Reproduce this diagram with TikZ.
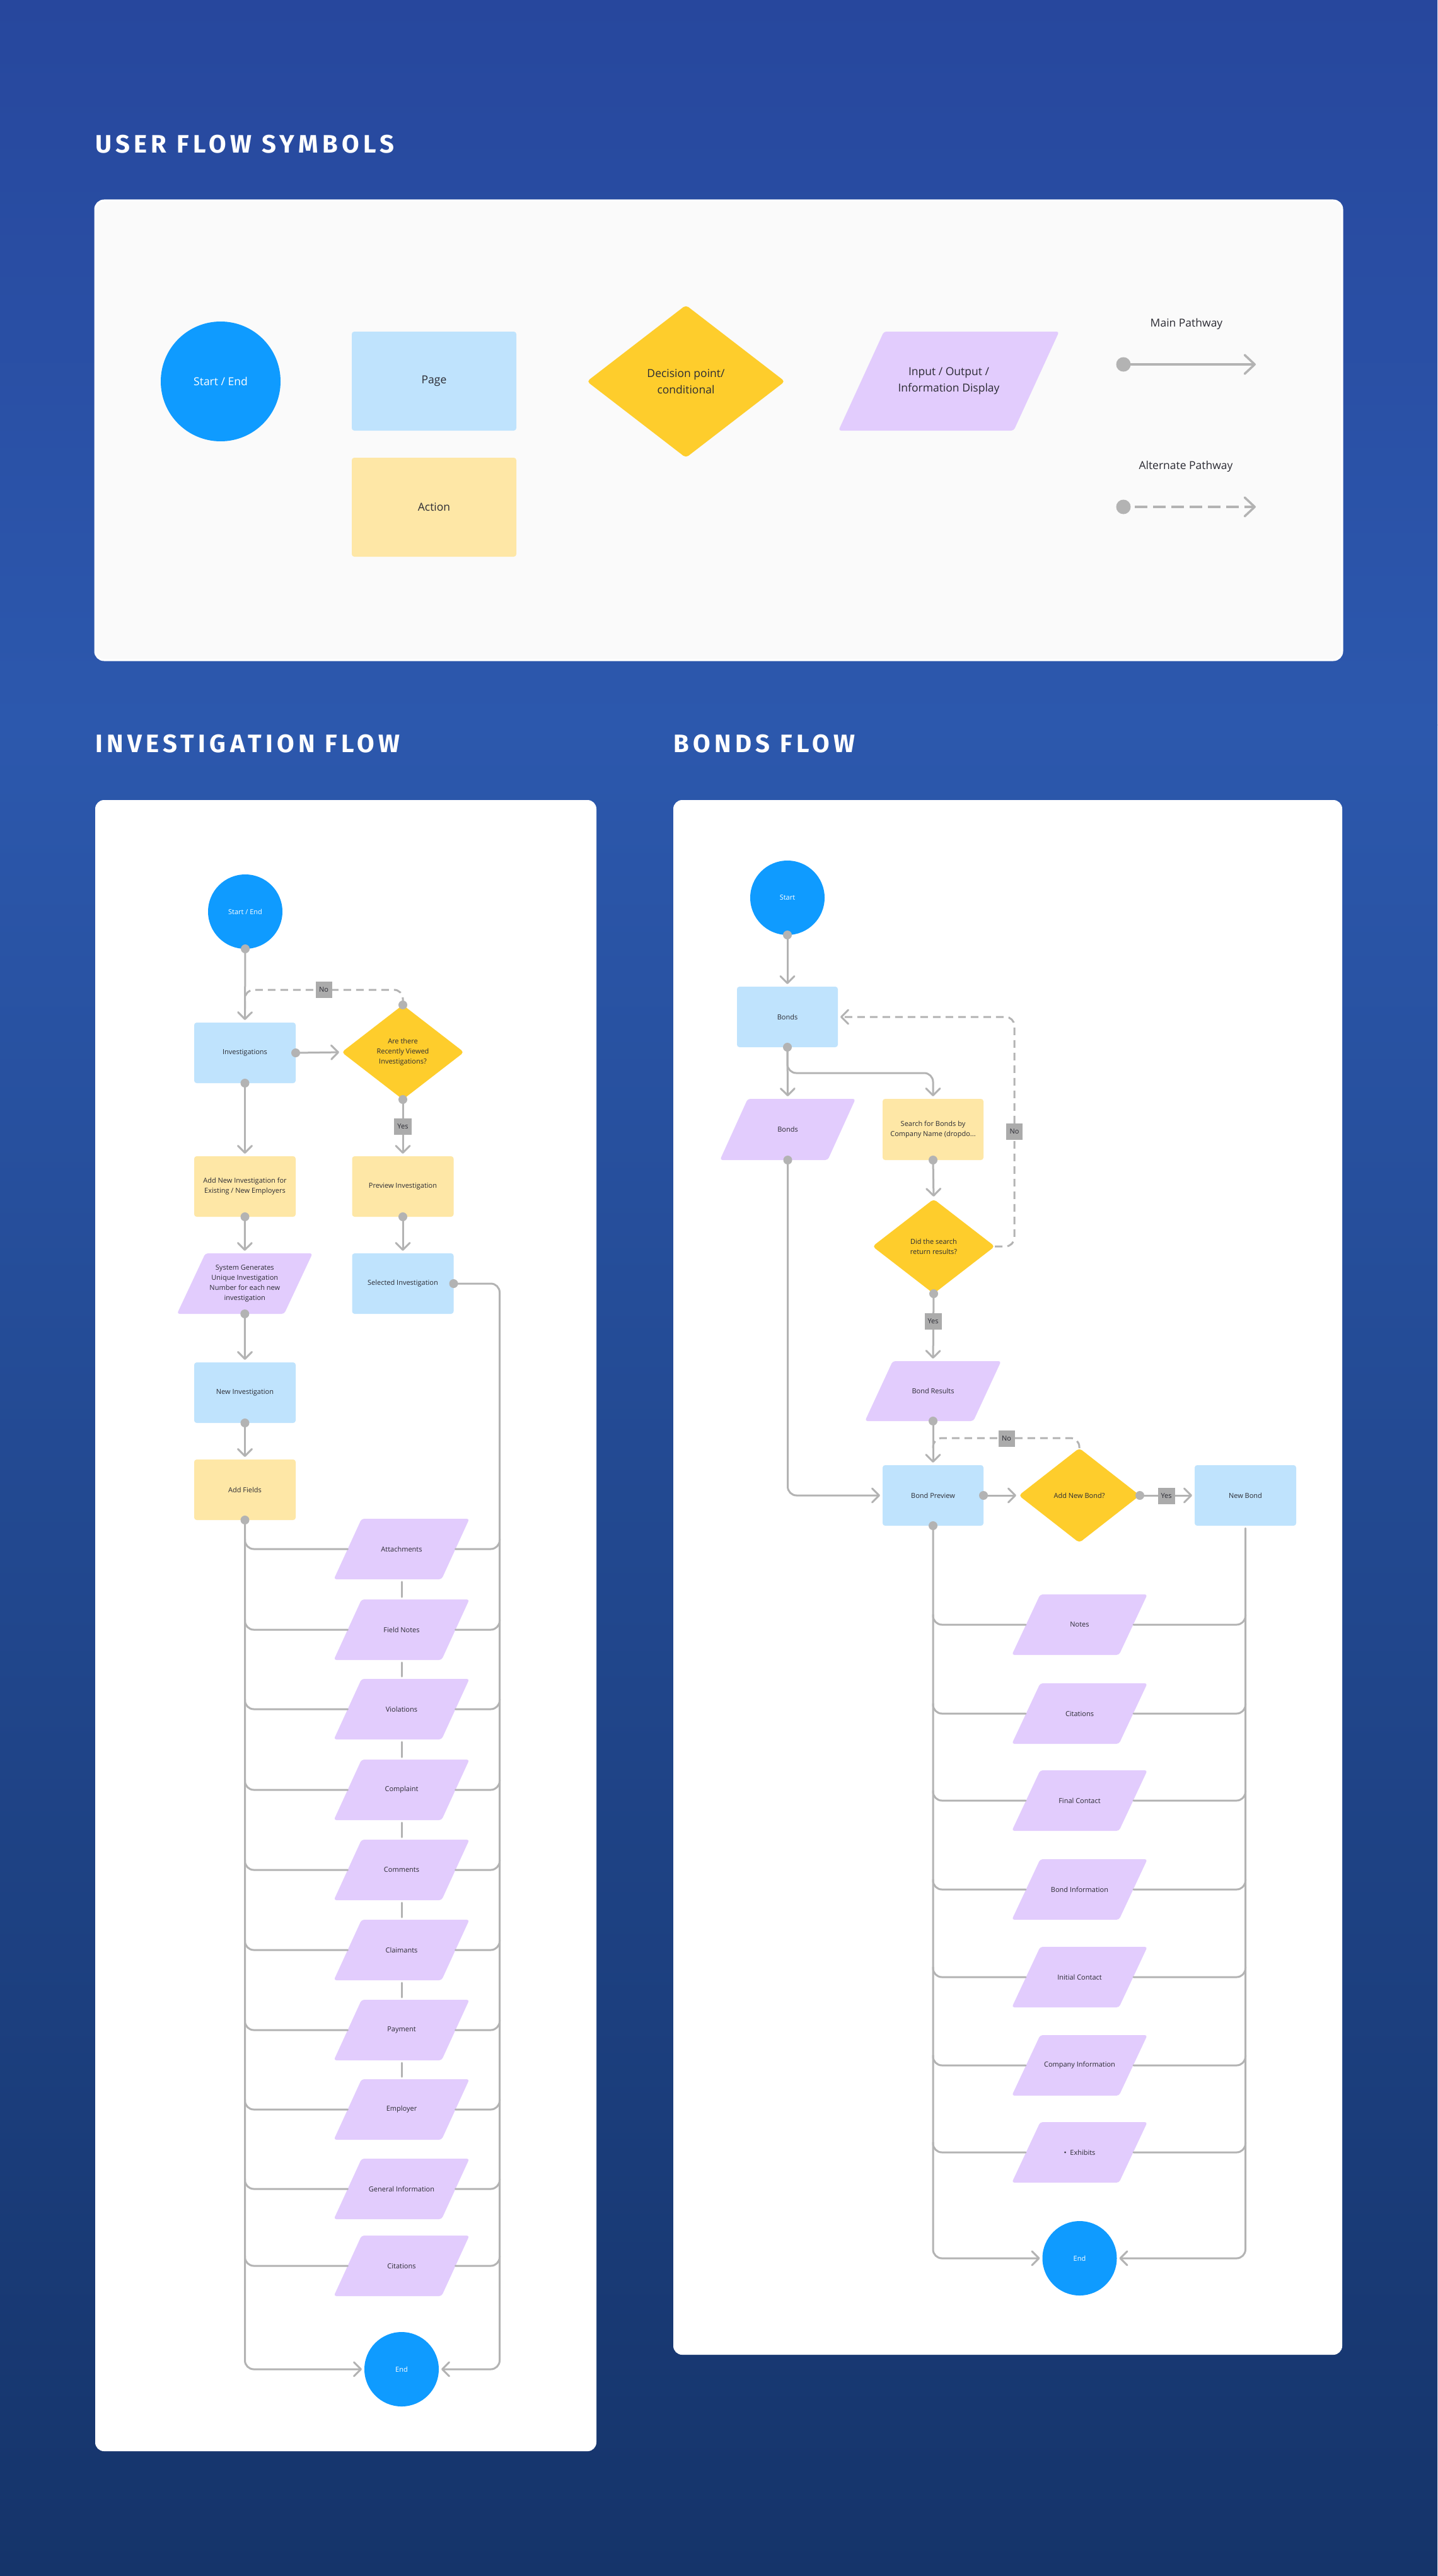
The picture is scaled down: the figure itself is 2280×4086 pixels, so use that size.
\documentclass[tikz,border=0pt]{standalone}
\usepackage{fontspec}
\setmainfont{Open Sans}
\newfontfamily\titlefont[LetterSpace=16]{Fira Sans}
\usetikzlibrary{shapes.geometric,arrows.meta,calc}
\pgfdeclarelayer{bg}
\pgfdeclarelayer{shp}
\pgfsetlayers{bg,shp,main}
\definecolor{termc}{HTML}{0F9BFF}
\definecolor{pagec}{HTML}{BFE3FD}
\definecolor{actc}{HTML}{FEE7A6}
\definecolor{decc}{HTML}{FECD2C}
\definecolor{ioc}{HTML}{E2CCFD}
\definecolor{linec}{HTML}{B3B3B3}
\definecolor{labc}{HTML}{ABABAB}
\definecolor{txt}{HTML}{2B2B33}
\definecolor{bgtop}{HTML}{27479D}
\definecolor{bgmid}{HTML}{2C58AD}
\definecolor{bgbot}{HTML}{15346A}
\definecolor{panelc}{HTML}{FAFAFA}
\newcommand\fsmall{\fontsize{11}{16}\selectfont}
\newcommand\fbig{\fontsize{17.5}{25.5}\selectfont}
\newcommand\ftitle{\titlefont\bfseries\fontsize{40}{48}\selectfont}
\newcommand\ionode[7][]{%
  \node[iobox,minimum width=#4pt,minimum height=#5pt,#1] (#2) at (#3) {#7};
  \begin{pgfonlayer}{shp}
    \fill[ioc,rounded corners=4pt] ([xshift=#6pt]#2.north west) -- (#2.north east)
      -- ([xshift=-#6pt]#2.south east) -- (#2.south west) -- cycle;
  \end{pgfonlayer}}
\newcommand\dotat[1]{\fill[linec] (#1) circle (7pt);}
\tikzset{
  base/.style={inner sep=0pt, outer sep=0pt, align=center, text=txt, font=\fsmall},
  pagebox/.style={base, rectangle, rounded corners=4pt, fill=pagec, minimum width=161pt, minimum height=96pt},
  actbox/.style={pagebox, fill=actc},
  decbox/.style={base, diamond, fill=decc, rounded corners=5pt, minimum width=194pt, minimum height=150pt},
  termbox/.style={base, circle, fill=termc, text=white, minimum size=118pt},
  iobox/.style={base, rectangle},
  labbox/.style={base, fill=labc, inner xsep=5pt, minimum height=26pt, minimum width=26pt},
  titlenode/.style={inner sep=0pt, outer sep=0pt, anchor=west, text=white, font=\ftitle},
  conn/.style={draw=linec, line width=3pt, line cap=round, line join=round, rounded corners=14pt},
  arr/.style={conn, ->, shorten >=4pt},
  dconn/.style={conn, line cap=butt, dash pattern=on 12pt off 8pt},
  symconn/.style={draw=linec, line width=3.5pt, line cap=round, line join=round, -{Straight Barb[length=16pt,width=30pt,round]}},
}
\begin{document}
\begin{tikzpicture}[x=1pt,y=-1pt,>={Straight Barb[length=11pt,width=22pt,round]}]
\useasboundingbox (0,0) rectangle (2280,4086);
\begin{pgfonlayer}{bg}
  \shade[top color=bgtop, bottom color=bgmid] (0,0) rectangle (2280,1150);
  \shade[top color=bgmid, bottom color=bgbot] (0,1149) rectangle (2280,4086);
  \filldraw[fill=panelc, draw=white, line width=3pt, rounded corners=14pt] (151,318) rectangle (2129,1047);
  \fill[white, rounded corners=14pt] (151,1269) rectangle (946,3888);
  \fill[white, rounded corners=14pt] (1068,1269) rectangle (2129,3735);
\end{pgfonlayer}

% titles
\node[titlenode] (t1) at (151,229) {USER FLOW SYMBOLS};
\node[titlenode] (t2) at (151,1180) {INVESTIGATION FLOW};
\node[titlenode] (t3) at (1068,1180) {BONDS FLOW};

% ---------- symbols ----------
\node[termbox, minimum size=190pt, font=\fbig] (symstart) at (350,605) {Start / End};
\node[pagebox, minimum width=261pt, minimum height=157pt, font=\fbig] (sympage) at (688.5,604.5) {Page};
\node[actbox, minimum width=261pt, minimum height=157pt, font=\fbig] (symaction) at (688.5,804.5) {Action};
\node[decbox, minimum width=314pt, minimum height=242pt, font=\fbig] (symdec) at (1088,605) {Decision point/\\conditional};
\ionode[font=\fbig]{symio}{1505,604.5}{350}{157}{72}{Input / Output /\\Information Display}
\node[base, font=\fbig] (mainlbl) at (1882,514) {Main Pathway};
\node[base, font=\fbig] (altlbl) at (1881,740) {Alternate Pathway};
\coordinate (mainA) at (1782,578);
\coordinate (mainB) at (1992,578);
\coordinate (altA) at (1782,804);
\coordinate (altB) at (1992,804);
\draw[symconn] (mainA) -- (mainB);
\fill[linec] (mainA) circle (11.5pt);
\draw[symconn, line cap=butt, dash pattern=on 20pt off 9pt] ([xshift=18pt]altA) -- (altB);
\fill[linec] (altA) circle (11.5pt);

% ---------- investigation flow ----------
\node[termbox] (start1) at (389,1446) {Start / End};
\node[pagebox] (inv) at (388.5,1670) {Investigations};
\node[decbox] (q1) at (639,1669) {Are there\\Recently Viewed\\Investigations?};
\node[actbox] (addnew) at (388.5,1882) {Add New Investigation for\\Existing / New Employers};
\node[actbox] (preview) at (639,1882) {Preview Investigation};
\ionode{sysgen}{388.3,2036}{215}{96}{45}{System Generates\\Unique Investigation\\Number for each new\\investigation}
\node[pagebox] (selected) at (639,2036) {Selected Investigation};
\node[pagebox] (newinv) at (388.5,2209) {New Investigation};
\node[actbox] (addfields) at (388.5,2363) {Add Fields};
\foreach \i/\yy/\t in {1/2457/Attachments, 2/2585/Field Notes, 3/2711/Violations,
  4/2839/Complaint, 5/2966/Comments, 6/3093/Claimants, 7/3220/Payment,
  8/3346/Employer, 9/3472/General Information, 10/3594/Citations}{
  \ionode{f\i}{637,\yy}{215}{96}{44}{\t}
}
\node[termbox] (end1) at (637,3758) {End};

\coordinate (lrail) at (addfields.south);
\coordinate (rrail) at ($(selected.east)+(73,0)$);

\draw[arr] (start1.south) -- (inv.north);
\draw[dconn] (q1.north) -- ++(0,-24) -| ([yshift=22pt]inv.north);
\draw[arr] (inv.east) -- (q1.west);
\draw[arr] (q1.south) -- (preview.north);
\draw[arr] (inv.south) -- (addnew.north);
\draw[arr] (addnew.south) -- (sysgen.north);
\draw[arr] (preview.south) -- (selected.north);
\draw[arr] (sysgen.south) -- (newinv.north);
\draw[arr] (newinv.south) -- (addfields.north);
\draw[arr] (addfields.south) |- (end1.west);
\draw[arr] (selected.east) -- (rrail) |- (end1.east);
\foreach \i in {1,...,10}{
  \draw[conn] (lrail |- f\i.west) ++(0,-16) |- ([xshift=22pt]f\i.west);
  \draw[conn] ([xshift=-22pt]f\i.east) -| ($(rrail |- f\i.east)+(0,-16)$);
}
\foreach \i/\j in {1/2,2/3,3/4,4/5,5/6,6/7,7/8}{
  \draw[conn] ([yshift=-4pt]f\i.south) -- ([yshift=4pt]f\j.north);
}
\node[labbox] (noA) at (513.5,1570) {No};
\node[labbox] (yesA) at (639,1786.5) {Yes};
\dotat{start1.south}
\dotat{q1.north}
\dotat{inv.east}
\dotat{inv.south}
\dotat{q1.south}
\dotat{addnew.south}
\dotat{preview.south}
\dotat{sysgen.south}
\dotat{selected.east}
\dotat{newinv.south}
\dotat{addfields.south}

% ---------- bonds flow ----------
\node[termbox] (start2) at (1249,1424) {Start};
\node[pagebox, minimum width=160pt] (bonds) at (1249,1613) {Bonds};
\ionode{bondsio}{1249.5,1791.5}{215}{97}{44}{Bonds}
\node[actbox, minimum width=160pt, minimum height=97pt] (search) at (1480,1791.5) {Search for Bonds by\\Company Name (dropdo...};
\node[decbox] (q2) at (1481,1977) {Did the search\\return results?};
\ionode{results}{1480,2206.5}{216}{95}{44}{Bond Results}
\node[pagebox, minimum width=160pt] (preview2) at (1480,2372) {Bond Preview};
\node[decbox, minimum width=192pt] (q3) at (1712,2372) {Add New Bond?};
\node[pagebox] (newbond) at (1975.5,2372) {New Bond};
\foreach \i/\yy/\t in {1/2577/Notes, 2/2718/Citations, 3/2856/Final Contact,
  4/2997/Bond Information, 5/3136/Initial Contact, 6/3276/Company Information,
  7/3414/{\textbullet\ \ Exhibits}}{
  \ionode{b\i}{1712.5,\yy}{215}{96}{45}{\t}
}
\node[termbox] (end2) at (1712.5,3582) {End};

\coordinate (lrail2) at (preview2.south);
\coordinate (rrail2) at (newbond.south);

\draw[arr] (start2.south) -- (bonds.north);
\draw[arr] (bonds.south) -- (bondsio.north);
\draw[arr] (bonds.south) -- ++(0,41) -| (search.north);
\draw[arr] (bondsio.south) |- (preview2.west);
\draw[arr] (search.south) -- (q2.north);
\draw[dconn, ->, shorten >=4pt] (q2.east) -- ++(31,0) |- (bonds.east);
\draw[arr] (q2.south) -- (results.north);
\draw[arr] (results.south) -- (preview2.north);
\draw[dconn] (q3.north) -- ++(0,-16) -| ([yshift=19pt]preview2.north);
\draw[arr] (preview2.east) -- (q3.west);
\draw[arr] (q3.east) -- (newbond.west);
\draw[arr] (preview2.south) |- (end2.west);
\draw[arr] ([yshift=-4pt]newbond.south) |- (end2.east);
\foreach \i in {1,...,7}{
  \draw[conn] (lrail2 |- b\i.west) ++(0,-16) |- ([xshift=22pt]b\i.west);
  \draw[conn] ([xshift=-22pt]b\i.east) -| ($(rrail2 |- b\i.east)+(0,-16)$);
}
\node[labbox] (noB) at (1609,1795) {No};
\node[labbox] (yesB) at (1480,2096) {Yes};
\node[labbox] (noC) at (1596.5,2281.5) {No};
\node[labbox] (yesC) at (1850,2372.5) {Yes};
\dotat{start2.south}
\dotat{bonds.south}
\dotat{bondsio.south}
\dotat{search.south}
\dotat{q2.south}
\dotat{results.south}
\dotat{preview2.east}
\dotat{q3.east}
\dotat{preview2.south}
\end{tikzpicture}
\end{document}
